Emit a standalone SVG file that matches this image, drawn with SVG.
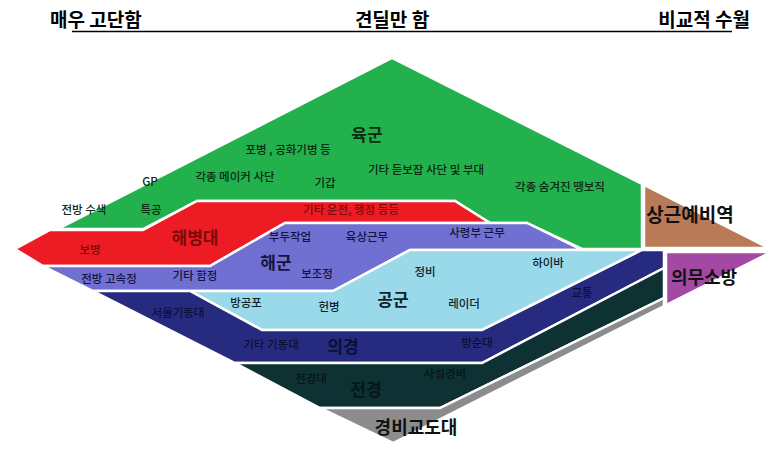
<svg xmlns="http://www.w3.org/2000/svg" width="784" height="452" viewBox="0 0 784 452">
<style>
.reg{stroke:#ffffff;stroke-width:2.5;stroke-linejoin:miter}
text{font-family:"Noto Sans CJK KR","Noto Sans",sans-serif;text-anchor:middle}
.s{font-size:11.5px;font-weight:500}
.b{font-size:17px;font-weight:bold}
.t{font-size:19px;font-weight:bold;fill:#000}
.g{fill:#0b2b12}
.r{fill:#7a0b0b}
.n{fill:#14143f}
.l{fill:#0f1f2c}
.v{fill:#0b0f38}
.d{fill:#041616}
.k{fill:#111111}
</style>
<rect width="784" height="452" fill="#ffffff"/>
<g id="header">
<text class="t" x="50" y="27" style="text-anchor:start">매우 고단함</text>
<text class="t" x="392" y="27">견딜만 함</text>
<text class="t" x="750" y="27" style="text-anchor:end">비교적 수월</text>
<line x1="72" y1="31.5" x2="732" y2="31.5" stroke="#000" stroke-width="1.5"/>
</g>
<g id="connectors"></g>
<g id="army">
<polygon class="reg" fill="#22b14c" points="58,229 392,58 642,184 642,249 582,249 527,223 490,223 455,201 197,201 143,229"/>
<text class="b g" x="367" y="141">육군</text>
<text class="s g" x="288" y="154">포병 , 공화기병 등</text>
<text class="s g" x="235" y="181">각종 메이커 사단</text>
<text class="s g" x="150" y="186">GP</text>
<text class="s g" x="325" y="187">기갑</text>
<text class="s g" x="426" y="174">기타 듣보잡 사단 및 부대</text>
<text class="s g" x="560" y="191">각종 숨겨진 땡보직</text>
<text class="s g" x="84" y="214">전방 수색</text>
<text class="s g" x="151" y="214">특공</text>
</g>
<g id="marines">
<polygon class="reg" fill="#ed1c24" points="15,249 50,230 143,230 197,201 455,201 490,223 285,223 210,266 43,266"/>
<text class="b r" x="195" y="244">해병대</text>
<text class="s r" x="351" y="214">기타 운전, 행정 등등</text>
<text class="s r" x="90" y="254">보병</text>
</g>
<g id="navy">
<polygon class="reg" fill="#7070d2" points="43,266 210,266 285,223 527,223 582,250 410,250 333,291 93,291"/>
<text class="b n" x="276" y="269">해군</text>
<text class="s n" x="290" y="241">부두작업</text>
<text class="s n" x="367" y="241">육상근무</text>
<text class="s n" x="477" y="237">사령부 근무</text>
<text class="s n" x="317" y="278">보조정</text>
<text class="s n" x="109" y="283">전방 고속정</text>
<text class="s n" x="195" y="280">기타 함정</text>
</g>
<g id="airforce">
<polygon class="reg" fill="#99d9ea" points="190,291 333,291 410,250 642,250 482,330 262,330"/>
<text class="b l" x="393" y="306">공군</text>
<text class="s l" x="425" y="276">정비</text>
<text class="s l" x="548" y="267">하이바</text>
<text class="s l" x="464" y="308">레이더</text>
<text class="s l" x="246" y="307">방공포</text>
<text class="s l" x="329" y="311">헌병</text>
</g>
<g id="conscript-police">
<polygon class="reg" fill="#262b80" points="93,291 190,291 262,330 482,330 642,250 664,250 664,268 482,363 235,363"/>
<text class="b v" x="343" y="353">의경</text>
<text class="s v" x="178" y="317">서울기동대</text>
<text class="s v" x="582" y="297">교통</text>
<text class="s v" x="271" y="349">기타 기동대</text>
<text class="s v" x="477" y="347">방순대</text>
</g>
<g id="combat-police">
<polygon class="reg" fill="#0e3133" points="235,363 482,363 664,268 664,298 440,408 320,408"/>
<text class="b d" x="366" y="396">전경</text>
<text class="s d" x="311" y="383">전경대</text>
<text class="s d" x="445" y="378">사설경비</text>
</g>
<g id="prison-guard">
<polygon class="reg" fill="#8c8c8c" points="320,408 440,408 664,298 664,306 393,443"/>
<text class="b k" x="416" y="434" style="font-size:18px">경비교도대</text>
</g>
<g id="reserve">
<polygon class="reg" fill="#b97a57" points="644,185 644,248 769,248"/>
<text class="b k" x="690" y="222" style="font-size:19px">상근예비역</text>
</g>
<g id="fire">
<polygon class="reg" fill="#a349a4" points="666,252 771,252 666,305"/>
<text class="b k" x="704" y="284" style="font-size:18px">의무소방</text>
</g>
</svg>
